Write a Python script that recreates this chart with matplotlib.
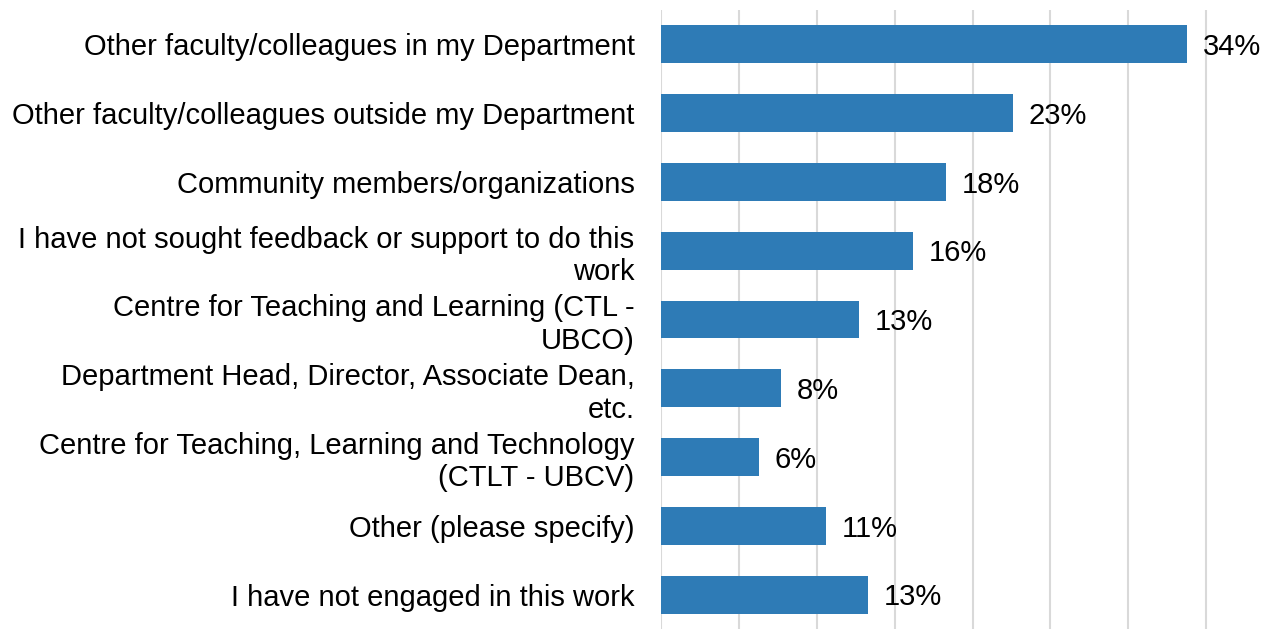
import numpy as np
import matplotlib.pyplot as plt

# categories, top to bottom
categories = [
    "Other faculty/colleagues in my Department",
    "Other faculty/colleagues outside my Department",
    "Community members/organizations",
    "I have not sought feedback or support to do this\nwork",
    "Centre for Teaching and Learning (CTL -\nUBCO)",
    "Department Head, Director, Associate Dean,\netc.",
    "Centre for Teaching, Learning and Technology\n(CTLT - UBCV)",
    "Other (please specify)",
    "I have not engaged in this work",
]
# percentages
values = [33.8, 22.6, 18.3, 16.2, 12.7, 7.7, 6.3, 10.6, 13.3]

plt.rcParams['font.family'] = ['Liberation Sans', 'DejaVu Sans']

fig = plt.figure(figsize=(12.84, 6.29), dpi=100)
ax = fig.add_axes([661 / 1284, 0, 1 - 661 / 1284, 1 - 10 / 629])

y = np.arange(len(categories))
ax.barh(y, values, height=0.55, color='#2E7BB6', zorder=3)

for yi, v in zip(y, values):
    ax.text(v + 1.0, yi + 0.04, f"{v:.0f}%", va='center', ha='left',
            fontsize=21, color='black')

ax.set_xlim(0, 40)
ax.set_ylim(len(categories) - 0.5, -0.5)
ax.set_xticks(np.arange(0, 40, 5))
ax.xaxis.grid(True, color='#D9D9D9', linewidth=1.5, zorder=0)
ax.tick_params(axis='x', length=0, labelbottom=False)

ax.set_yticks(y)
ax.set_yticklabels(categories, fontsize=21, ha='right', multialignment='right',
                   linespacing=1.2)
ax.tick_params(axis='y', length=0, pad=19)

for s in ax.spines.values():
    s.set_visible(False)

plt.savefig("out.png", dpi=100)
